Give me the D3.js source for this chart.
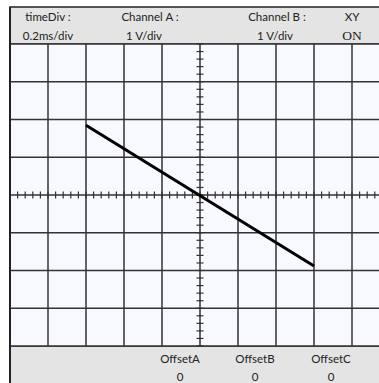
<!DOCTYPE html>
<html><head><meta charset="utf-8">
<script src="https://cdn.jsdelivr.net/npm/d3@7"></script>
<style>html,body{margin:0;padding:0;background:#fff;overflow:hidden}</style>
</head><body>
<svg id="c" width="379" height="383"></svg>
<script>
const headerLabels = ["timeDiv :", "Channel A :", "Channel B :", "XY"];
const headerValues = ["0.2ms/div", "1 V/div", "1 V/div", "ON"];
const footerLabels = ["OffsetA", "OffsetB", "OffsetC"];
const footerValues = ["0", "0", "0"];
const xDivs = d3.range(-5, 6);
const yDivs = d3.range(-4, 5);
const traceX = [-3, 3];
const traceY = [1.85, -1.88];

(function () {
const svg = d3.select("#c");
const pLeft = 10, pRight = 390, pTop = 44, pBottom = 346;
const x = d3.scaleLinear().domain([-5, 5]).range([pLeft, pRight]);
const y = d3.scaleLinear().domain([-4, 4]).range([pBottom, pTop]);
const sans = "Lato, 'Open Sans', sans-serif";

svg.append("rect").attr("x", pLeft).attr("y", 7).attr("width", 400).attr("height", pTop - 7)
  .attr("fill", "#e4e4e4").attr("stroke", "#222").attr("stroke-width", 1.5);
svg.append("rect").attr("x", pLeft).attr("y", pBottom).attr("width", 400).attr("height", 60)
  .attr("fill", "#e4e4e4").attr("stroke", "#222").attr("stroke-width", 1.5);
svg.append("rect").attr("x", pLeft).attr("y", pTop).attr("width", pRight - pLeft).attr("height", pBottom - pTop)
  .attr("fill", "#f8f8ff");

const g = svg.append("g");
g.selectAll("line.v").data(xDivs).join("line").attr("class", "v")
  .attr("x1", d => x(d)).attr("x2", d => x(d)).attr("y1", pTop).attr("y2", pBottom)
  .attr("stroke", "#333").attr("stroke-width", 1.5);
g.selectAll("line.h").data(yDivs).join("line").attr("class", "h")
  .attr("x1", pLeft).attr("x2", pRight).attr("y1", d => y(d)).attr("y2", d => y(d))
  .attr("stroke", "#333").attr("stroke-width", 1.5);

const xt = d3.range(-5, 5.001, 0.2);
const yt = d3.range(-4, 4.001, 0.2);
g.selectAll("line.xt").data(xt).join("line").attr("class", "xt")
  .attr("x1", d => x(d)).attr("x2", d => x(d)).attr("y1", y(0) - 3.5).attr("y2", y(0) + 3.5)
  .attr("stroke", "#333").attr("stroke-width", 1.2);
g.selectAll("line.yt").data(yt).join("line").attr("class", "yt")
  .attr("x1", x(0) - 3.5).attr("x2", x(0) + 3.5).attr("y1", d => y(d)).attr("y2", d => y(d))
  .attr("stroke", "#333").attr("stroke-width", 1.2);

svg.append("line").attr("x1", pLeft).attr("x2", pLeft).attr("y1", 7).attr("y2", 383)
  .attr("stroke", "#222").attr("stroke-width", 2);

const pts = traceX.map((v, i) => [v, traceY[i]]);
svg.append("path").datum(pts)
  .attr("d", d3.line().x(d => x(d[0])).y(d => y(d[1])))
  .attr("stroke", "#000").attr("stroke-width", 3).attr("fill", "none");

const hx = [48, 150, 277, 352];
const hvx = [48, 144, 275, 352];
svg.selectAll("text.hl").data(headerLabels).join("text").attr("class", "hl")
  .attr("x", (d, i) => hx[i]).attr("y", 21).attr("text-anchor", "middle")
  .attr("font-family", sans).attr("font-size", 11.5).attr("fill", "#222").text(d => d);
svg.selectAll("text.hv").data(headerValues).join("text").attr("class", "hv")
  .attr("x", (d, i) => hvx[i]).attr("y", 40).attr("text-anchor", "middle")
  .attr("font-family", (d, i) => i === 3 ? "Liberation Serif, serif" : sans)
  .attr("font-size", (d, i) => i === 3 ? 13.5 : 11.5).attr("fill", "#222").text(d => d);

const fx = [180, 255, 331];
svg.selectAll("text.fl").data(footerLabels).join("text").attr("class", "fl")
  .attr("x", (d, i) => fx[i]).attr("y", 363).attr("text-anchor", "middle")
  .attr("font-family", sans).attr("font-size", 11.5).attr("fill", "#222").text(d => d);
svg.selectAll("text.fv").data(footerValues).join("text").attr("class", "fv")
  .attr("x", (d, i) => fx[i]).attr("y", 381).attr("text-anchor", "middle")
  .attr("font-family", sans).attr("font-size", 11.5).attr("fill", "#222").text(d => d);
})();
</script>
</body></html>
